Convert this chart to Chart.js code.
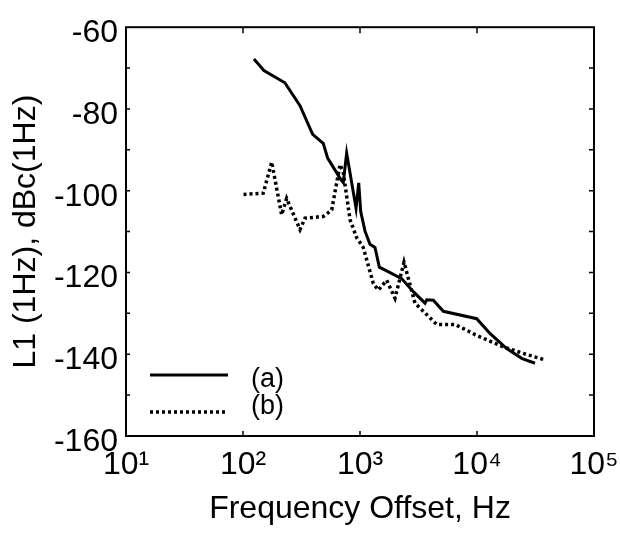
<!DOCTYPE html>
<html>
<head>
<meta charset="utf-8">
<script src="https://cdn.jsdelivr.net/npm/chart.js@4/dist/chart.umd.min.js"></script>
<style>
  body { margin: 0; background: #fff; }
  #wrap { width: 620px; height: 533px; position: relative; }
</style>
</head>
<body>
<div id="wrap"><canvas id="grafico"></canvas></div>
<script>
// datos: curva (a) continua
const freqA = [124, 151, 228, 307, 394, 485, 529, 684, 720, 769, 925, 975, 1014, 1104, 1217, 1343, 1463, 1691, 2272, 2856, 3596, 3717, 4237, 5157, 9940, 12900, 17940, 24100, 31300];
const levelA = [-67.8, -70.6, -73.6, -79.2, -86.2, -88.4, -92.0, -97.2, -98.0, -90.8, -104.3, -98.1, -105.1, -109.9, -113.1, -113.9, -118.7, -119.6, -121.5, -124.7, -127.5, -126.7, -126.8, -129.5, -131.3, -134.9, -138.6, -141.0, -142.2];

// curva (b) punteada
const freqB = [101, 149, 176, 214, 236, 307, 339, 485, 573, 675, 720, 822, 937, 1067, 1299, 1433, 1691, 1991, 2378, 2951, 4520, 6490, 9940, 16800, 24900, 38100];
const levelB = [-100.9, -100.6, -93.0, -105.9, -101.9, -109.5, -106.7, -106.3, -104.7, -93.6, -95.6, -107.1, -111.5, -113.9, -122.7, -124.3, -121.9, -126.3, -117.5, -127.5, -132.7, -132.7, -135.4, -138.2, -139.8, -141.4];

const seriesNames = ['(a)', '(b)'];

// ejes
const xTickValues = [10, 100, 1000, 10000, 100000];
const xTickLabels = ['10\u00B9', '10\u00B2', '10\u00B3', '10\u2074', '10\u2075'];
const yMin = -160, yMax = -60, yStep = 20, yMinorStep = 10;

const fuente = "'Liberation Sans', Arial, sans-serif";

function toPoints(xs, ys) {
    return xs.map((x, i) => ({ x: x, y: ys[i] }));
}

// marco, marcas hacia adentro y leyenda dentro del grafico
const marcoPlugin = {
    id: 'marco',
    afterDraw(chart) {
        const ctx = chart.ctx;
        const a = chart.chartArea;
        const xs = chart.scales.x;
        const ys = chart.scales.y;
        ctx.save();
        ctx.strokeStyle = '#000';
        ctx.lineWidth = 2;
        ctx.strokeRect(a.left, a.top, a.right - a.left, a.bottom - a.top);

        ctx.lineWidth = 1.5;
        ctx.beginPath();
        for (let v = yMin + yMinorStep; v < yMax; v += yMinorStep) {
            const py = ys.getPixelForValue(v);
            ctx.moveTo(a.left, py); ctx.lineTo(a.left + 4, py);
            ctx.moveTo(a.right, py); ctx.lineTo(a.right - 5, py);
        }
        xTickValues.slice(1, -1).forEach(v => {
            const px = xs.getPixelForValue(v);
            ctx.moveTo(px, a.bottom); ctx.lineTo(px, a.bottom - 5);
            ctx.moveTo(px, a.top); ctx.lineTo(px, a.top + 6);
        });
        ctx.stroke();

        // leyenda
        const lx1 = 150, lx2 = 228;
        const filas = [375, 412];
        chart.data.datasets.forEach((ds, i) => {
            ctx.beginPath();
            ctx.lineWidth = ds.borderWidth;
            ctx.setLineDash(ds.borderDash || []);
            ctx.moveTo(lx1, filas[i]);
            ctx.lineTo(lx2, filas[i]);
            ctx.stroke();
        });
        ctx.setLineDash([]);
        ctx.fillStyle = '#000';
        ctx.font = '27px ' + fuente;
        ctx.textBaseline = 'middle';
        ctx.textAlign = 'left';
        ctx.fillText(seriesNames[0], 251, 380);
        ctx.fillText(seriesNames[1], 251, 407);
        ctx.restore();
    }
};

new Chart(document.getElementById('grafico').getContext('2d'), {
    type: 'line',
    data: {
        datasets: [
            {
                label: seriesNames[0],
                data: toPoints(freqA, levelA),
                borderColor: '#000',
                borderWidth: 3,
                pointRadius: 0,
                tension: 0,
                fill: false
            },
            {
                label: seriesNames[1],
                data: toPoints(freqB, levelB),
                borderColor: '#000',
                borderWidth: 3.5,
                borderDash: [3, 3],
                pointRadius: 0,
                tension: 0,
                fill: false
            }
        ]
    },
    options: {
        responsive: true,
        maintainAspectRatio: false,
        animation: false,
        layout: { padding: { top: 18, right: 26, left: 0, bottom: 0 } },
        plugins: {
            legend: { display: false },
            tooltip: { enabled: false }
        },
        scales: {
            x: {
                type: 'logarithmic',
                min: 10,
                max: 100000,
                grid: { display: false, drawTicks: false },
                border: { display: false },
                afterBuildTicks(scale) {
                    scale.ticks = xTickValues.map(v => ({ value: v, major: true }));
                },
                afterFit(scale) {
                    scale.height = 97;
                    scale.paddingLeft = 0;
                    scale.paddingRight = 0;
                },
                ticks: {
                    color: '#000',
                    padding: 10,
                    maxRotation: 0,
                    autoSkip: false,
                    font: { family: fuente, size: 32 },
                    callback: (value) => {
                        const i = xTickValues.indexOf(value);
                        return i >= 0 ? xTickLabels[i] : '';
                    }
                },
                title: {
                    display: true,
                    text: 'Frequency Offset, Hz',
                    color: '#000',
                    font: { family: fuente, size: 32 },
                    padding: { top: 0, bottom: 5 }
                }
            },
            y: {
                min: yMin,
                max: yMax,
                grid: { display: false, drawTicks: false },
                border: { display: false },
                afterFit(scale) { scale.width = 126; },
                ticks: {
                    stepSize: yStep,
                    color: '#000',
                    padding: 8,
                    labelOffset: 6,
                    font: { family: fuente, size: 32 }
                },
                title: {
                    display: true,
                    text: 'L1 (1Hz), dBc(1Hz)',
                    color: '#000',
                    font: { family: fuente, size: 32 },
                    padding: { top: 7, bottom: 0 }
                }
            }
        }
    },
    plugins: [marcoPlugin]
});
</script>
</body>
</html>
